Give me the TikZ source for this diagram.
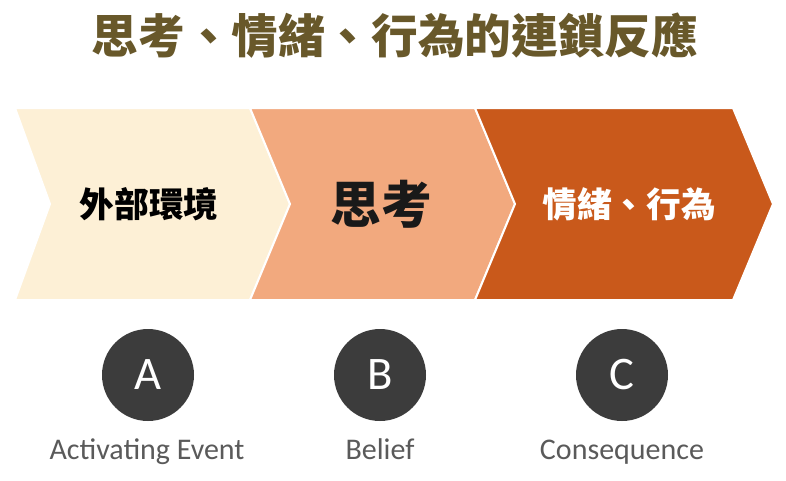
\documentclass[tikz,border=0pt]{standalone}
\usepackage{fontspec}
\newfontfamily\cjk{Noto Sans CJK TC}
\newfontfamily\latin{Carlito}
\usetikzlibrary{shapes}
\definecolor{titletext}{RGB}{104,88,42}
\definecolor{envfill}{RGB}{253,240,214}
\definecolor{beliefill}{RGB}{242,169,126}
\definecolor{resultfill}{RGB}{201,89,27}
\definecolor{disc}{RGB}{60,60,60}
\definecolor{caption}{RGB}{90,90,90}

\begin{document}
\begin{tikzpicture}[x=0.75pt, y=-0.75pt]
            \tikzset{chevron/.style={draw=white, line width=1.5pt, line join=miter}}
            \tikzset{letter/.style={circle, fill=disc, minimum size=69pt, inner sep=0pt, text=white, font=\latin\fontsize{35}{35}\selectfont}}
            \tikzset{tag/.style={anchor=base, text=caption, font=\latin\fontsize{22.5}{22.5}\selectfont}}
            \useasboundingbox[fill=white] (0, 0) rectangle (786, 480);
            \node[text=titletext, font=\cjk\bfseries\fontsize{35}{35}\selectfont] (title) at (395, 36) {思考、情緒、行為的連鎖反應};
            \draw[chevron, fill=envfill] (15, 108) -- (250, 108) -- (290, 204) -- (250, 300) -- (15, 300) -- (50, 204) -- cycle;
            \draw[chevron, fill=beliefill] (250, 108) -- (475, 108) -- (515, 204) -- (475, 300) -- (250, 300) -- (290, 204) -- cycle;
            \draw[chevron, fill=resultfill] (475, 108) -- (733, 108) -- (773, 204) -- (733, 300) -- (475, 300) -- (515, 204) -- cycle;
            \node[font=\cjk\bfseries\fontsize{26}{26}\selectfont] (env) at (149, 204) {外部環境};
            \node[text=black!90, font=\cjk\bfseries\fontsize{38}{38}\selectfont] (belief) at (381, 204) {思考};
            \node[text=white, font=\cjk\bfseries\fontsize{26}{26}\selectfont] (result) at (629, 204) {情緒、行為};
            \node[letter] (a) at (148, 375) {A};
            \node[letter] (b) at (380, 375) {B};
            \node[letter] (c) at (622, 375) {C};
            \node[tag] (eventtag) at (147, 459) {Activating Event};
            \node[tag] (belieftag) at (380, 459) {Belief};
            \node[tag] (resulttag) at (622, 459) {Consequence};
        \end{tikzpicture}
\end{document}
